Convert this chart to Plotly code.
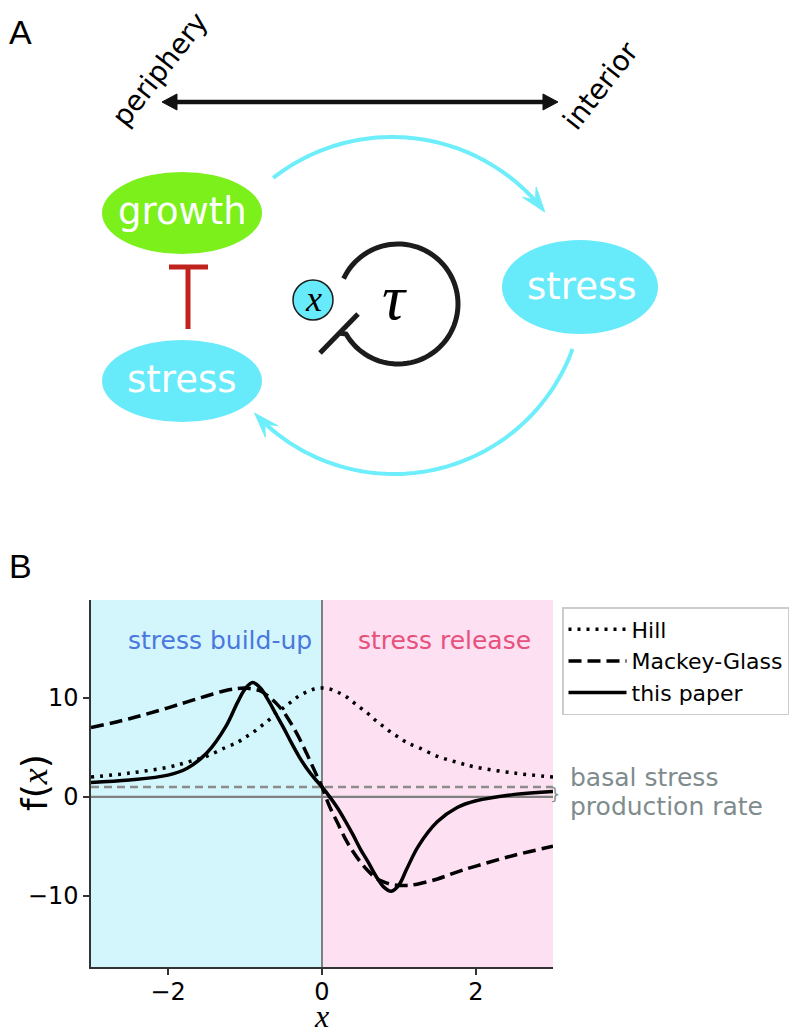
import math
import plotly.graph_objects as go

W, H = 793, 1031

# ---------------- data (panel B) ----------------
x_vals = [-3.0, -2.5, -2.0, -1.75, -1.5, -1.25, -1.1, -1.0, -0.9, -0.8, -0.7, -0.6, -0.5, -0.4, -0.3, -0.2, -0.1,
          0.0, 0.1, 0.2, 0.3, 0.4, 0.5, 0.6, 0.7, 0.8, 0.9, 1.0, 1.1, 1.25, 1.5, 1.75, 2.0, 2.5, 3.0]
hill = [2.0, 2.4, 3.0, 3.5, 4.1, 5.0, 5.5, 6.0, 6.5, 7.1, 7.7, 8.4, 9.0, 9.6, 10.2, 10.6, 10.9,
        11.0, 10.9, 10.6, 10.2, 9.6, 9.0, 8.4, 7.7, 7.1, 6.5, 6.0, 5.5, 5.0, 4.1, 3.5, 3.0, 2.4, 2.0]
mackey_glass = [7.0, 7.9, 9.0, 9.6, 10.2, 10.75, 10.95, 11.0, 10.9, 10.7, 10.2, 9.5, 8.6, 7.4, 6.0, 4.4, 2.7,
                1.0, -1.0, -2.6, -4.2, -5.5, -6.6, -7.5, -8.2, -8.6, -8.85, -8.95, -8.95, -8.8, -8.3, -7.6, -7.0, -5.9, -5.0]
this_paper = [1.45, 1.7, 2.2, 2.9, 4.4, 7.1, 9.5, 10.9, 11.55, 11.0, 9.8, 8.4, 7.0, 5.5, 4.1, 2.9, 1.9,
              1.0, 0.0, -1.1, -2.4, -3.8, -5.3, -6.6, -8.0, -9.1, -9.55, -8.9, -7.3, -5.0, -2.5, -1.1, -0.4, 0.25, 0.55]
series_names = ["Hill", "Mackey-Glass", "this paper"]
basal_rate = 1.0
x_ticks = [-2, 0, 2]
y_ticks = [-10, 0, 10]
x_range = [-3, 3]
y_range = [-17.2, 19.9]

# ---------------- helpers (pixel -> paper) ----------------
def PX(x):
    return x / W


def PY(y):
    return 1 - y / H


def path_from(points, close=False):
    s = "M " + " L ".join(f"{PX(x):.5f},{PY(y):.5f}" for x, y in points)
    return s + (" Z" if close else "")


def arc_points(cx, cy, r, a0, a1, n=80):
    pts = []
    for i in range(n + 1):
        a = math.radians(a0 + (a1 - a0) * i / n)
        pts.append((cx + r * math.cos(a), cy - r * math.sin(a)))
    return pts


def arrowhead(tip, d, L=25, Wd=8.5):
    tx, ty = tip
    dx, dy = d
    nx, ny = -dy, dx
    bx, by = tx - L * dx, ty - L * dy
    mx, my = tx - 0.6 * L * dx, ty - 0.6 * L * dy
    return [(tx, ty), (bx + Wd * nx, by + Wd * ny), (mx, my), (bx - Wd * nx, by - Wd * ny)]


FONT = "DejaVu Sans"
SERIF = "Liberation Serif, DejaVu Serif, serif"

fig = go.Figure()
styles = [dict(color="black", width=3.5, dash="3px,6px"),
          dict(color="black", width=3.5, dash="13px,6px"),
          dict(color="black", width=3.5)]
for name, ys, st in zip(series_names, [hill, mackey_glass, this_paper], styles):
    fig.add_trace(go.Scatter(x=x_vals, y=ys, mode="lines", name=name, line=st,
                             line_shape="spline", legendgroup=name))

shapes = []
# ---- panel B background regions and reference lines ----
shapes.append(dict(type="rect", xref="x", yref="y domain", x0=-3, x1=0, y0=0, y1=1,
                   fillcolor="#d3f5fc", line=dict(width=0), layer="below"))
shapes.append(dict(type="rect", xref="x", yref="y domain", x0=0, x1=3, y0=0, y1=1,
                   fillcolor="#fde0f1", line=dict(width=0), layer="below"))
shapes.append(dict(type="line", xref="x", yref="y domain", x0=0, x1=0, y0=0, y1=1,
                   line=dict(color="#808080", width=2), layer="below"))
shapes.append(dict(type="line", xref="x", yref="y", x0=-3, x1=3, y0=0, y1=0,
                   line=dict(color="#808080", width=2.2), layer="below"))
shapes.append(dict(type="line", xref="x", yref="y", x0=-3, x1=3, y0=basal_rate, y1=basal_rate,
                   line=dict(color="#8c8c8c", width=2.5, dash="8px,5px"), layer="below"))

# ---- panel A diagram ----
CYAN = "#67eafa"
ARC = "#6eeefa"
GREEN = "#7bf01b"
RED = "#c0221e"
DARK = "#1c1c1c"


def ellipse(cx, cy, rx, ry, color):
    return dict(type="circle", xref="paper", yref="paper",
                x0=PX(cx - rx), x1=PX(cx + rx), y0=PY(cy + ry), y1=PY(cy - ry),
                fillcolor=color, line=dict(width=0))


shapes.append(ellipse(182, 213, 80, 41, GREEN))
shapes.append(ellipse(182, 381, 80, 41, CYAN))
shapes.append(ellipse(580, 287, 78, 47, CYAN))

# double arrow periphery <-> interior
shapes.append(dict(type="path", xref="paper", yref="paper",
                   path=path_from([(172, 102), (548, 102)]), line=dict(color="#111111", width=4.5)))
shapes.append(dict(type="path", xref="paper", yref="paper",
                   path=path_from([(162, 102), (177, 94), (177, 110)], True),
                   fillcolor="#111111", line=dict(color="#111111", width=1)))
shapes.append(dict(type="path", xref="paper", yref="paper",
                   path=path_from([(558, 102), (543, 94), (543, 110)], True),
                   fillcolor="#111111", line=dict(color="#111111", width=1)))

# inhibition T (stress -| growth)
shapes.append(dict(type="path", xref="paper", yref="paper",
                   path=path_from([(188, 329), (188, 267)]), line=dict(color=RED, width=5)))
shapes.append(dict(type="path", xref="paper", yref="paper",
                   path=path_from([(169, 267), (208, 267)]), line=dict(color=RED, width=5)))

# delayed self-loop
loop = arc_points(398, 304, 60, 155, -150)
loop.append((339, 333))
shapes.append(dict(type="path", xref="paper", yref="paper",
                   path=path_from(loop), line=dict(color=DARK, width=5)))
shapes.append(dict(type="path", xref="paper", yref="paper",
                   path=path_from([(320, 353), (358, 314)]), line=dict(color=DARK, width=5)))

# x node
shapes.append(dict(type="circle", xref="paper", yref="paper",
                   x0=PX(293), x1=PX(333), y0=PY(320), y1=PY(280),
                   fillcolor=CYAN, line=dict(color=DARK, width=1.5)))

# cyan arcs with arrowheads
top_arc = arc_points(392, 330, 193, 128, 41)
shapes.append(dict(type="path", xref="paper", yref="paper",
                   path=path_from(top_arc), line=dict(color=ARC, width=4)))
t = math.radians(37.7)
tip = (392 + 193 * math.cos(t), 330 - 193 * math.sin(t))
shapes.append(dict(type="path", xref="paper", yref="paper",
                   path=path_from(arrowhead(tip, (math.sin(t), math.cos(t))), True),
                   fillcolor=ARC, line=dict(color=ARC, width=1)))

bot_arc = arc_points(394, 284, 190, -20, -133.5)
shapes.append(dict(type="path", xref="paper", yref="paper",
                   path=path_from(bot_arc), line=dict(color=ARC, width=4)))
t = math.radians(-137.2)
tip = (394 + 190 * math.cos(t), 284 - 190 * math.sin(t))
shapes.append(dict(type="path", xref="paper", yref="paper",
                   path=path_from(arrowhead(tip, (math.sin(t), math.cos(t))), True),
                   fillcolor=ARC, line=dict(color=ARC, width=1)))

annotations = []


def txt(x, y, s, size, color="black", family=FONT, xanchor="center", angle=0, yanchor="middle", yshift=0):
    annotations.append(dict(x=PX(x), y=PY(y), xref="paper", yref="paper", text=s, showarrow=False,
                            xanchor=xanchor, yanchor=yanchor, textangle=angle, yshift=yshift,
                            font=dict(size=size, color=color, family=family)))


txt(20, 32, "A", 34, family="Liberation Sans Narrow, Liberation Sans")
txt(20, 566, "B", 34, family="Liberation Sans Narrow, Liberation Sans")
txt(160, 70, "periphery", 28, angle=-52)
txt(601, 86, "interior", 28, angle=-52)
txt(182, 211, "growth", 37, color="white")
txt(182, 379, "stress", 37, color="white")
txt(582, 286, "stress", 37, color="white")
txt(313, 299, "<i>x</i>", 36, family=SERIF)
txt(394, 297, "<i>τ</i>", 64, family=SERIF)

# panel B texts
txt(220, 640, "stress build-up", 25, color="#4a78de")
txt(445, 640, "stress release", 25, color="#e8507e")
txt(568, 777, "basal stress", 25, color="#7f8c8d", xanchor="left")
txt(568, 806, "production rate", 25, color="#7f8c8d", xanchor="left")
txt(555, 793, "}", 16, color="#7f8c8d")
txt(34, 783, "f(<i><span style='font-family:Liberation Serif'>x</span></i>)", 36, angle=-90)
txt(321, 1031, "<i>x</i>", 32, family=SERIF, yanchor="bottom", yshift=-5)

fig.update_layout(
    width=W, height=H,
    margin=dict(l=0, r=0, t=0, b=0, autoexpand=False),
    paper_bgcolor="white", plot_bgcolor="white",
    font=dict(family=FONT, color="black"),
    shapes=shapes, annotations=annotations,
    showlegend=True,
    legend=dict(x=PX(562), y=PY(607), xanchor="left", yanchor="top",
                bgcolor="white", bordercolor="#cccccc", borderwidth=1.5,
                font=dict(size=22, family=FONT, color="black"),
                tracegroupgap=0, itemwidth=58),
    xaxis=dict(domain=[PX(91), PX(553)], range=x_range, tickvals=x_ticks,
               ticks="outside", ticklen=6, tickwidth=1.5, tickcolor="#333333",
               showline=True, linecolor="#333333", linewidth=1.5, ticklabelstandoff=-4,
               showgrid=False, zeroline=False, tickfont=dict(size=24, color="black")),
    yaxis=dict(domain=[PY(967), PY(600)], range=y_range, tickvals=y_ticks,
               ticks="outside", ticklen=6, tickwidth=1.5, tickcolor="#333333",
               showline=True, linecolor="#333333", linewidth=1.5,
               showgrid=False, zeroline=False, tickfont=dict(size=24, color="black")),
)

fig.write_html("out.html", config={"displayModeBar": False},
               post_script="document.body.style.margin='0px';document.body.style.padding='0px';")
